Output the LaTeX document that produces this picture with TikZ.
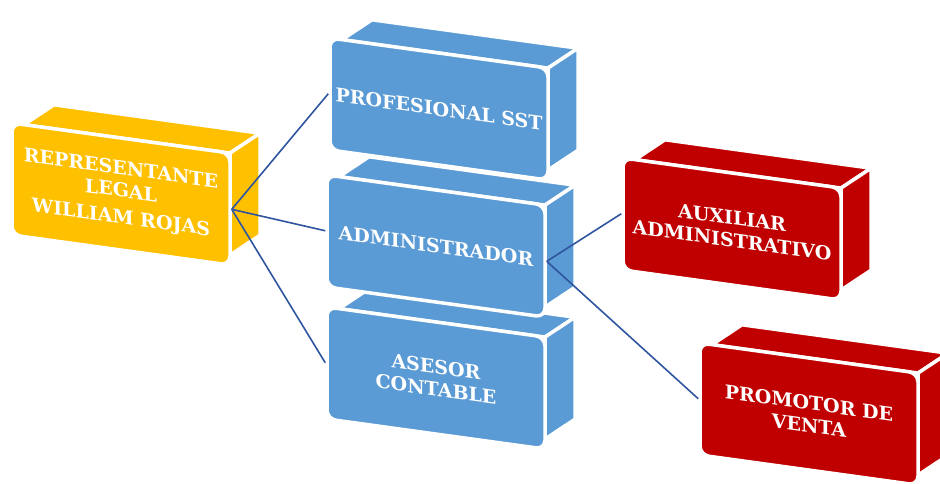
\documentclass[tikz,border=0pt]{standalone}
\usepackage{fontspec}
\setmainfont{DejaVu Serif}
\usetikzlibrary{positioning}

\definecolor{amarillo}{RGB}{255,192,0}
\definecolor{azul}{RGB}{91,155,213}
\definecolor{rojo}{RGB}{192,0,0}
\definecolor{linea}{RGB}{47,85,160}

\tikzset{
  cara/.style={draw=white, line width=3.5pt, line join=round},
  frente/.style={cara, rounded corners=9pt, minimum width=218pt, minimum height=112pt,
    inner sep=0pt, align=center, text=white, transform shape,
    font=\bfseries\fontsize{19}{22.5}\selectfont},
  conector/.style={draw=linea, line width=1.6pt},
}

\begin{document}
\begin{tikzpicture}[x=1pt,y=1pt]
  \useasboundingbox (0,0) rectangle (940,483);
  \clip (0,0) rectangle (940,483);

  % bloques: nombre / origen (esquina inferior izquierda) / relleno / texto
  \foreach \nombre/\px/\py/\relleno/\texto in {
      ase/327/64/azul/{ASESOR\\CONTABLE},
      adm/327/196/azul/{ADMINISTRADOR},
      pro/330/333/azul/{PROFESIONAL SST},
      rep/12/248/amarillo/{REPRESENTANTE\\LEGAL\\[4pt]WILLIAM ROJAS},
      aux/623/213/rojo/{AUXILIAR\\ADMINISTRATIVO},
      prom/700/28/rojo/{PROMOTOR DE\\VENTA}}
  {
    \begin{scope}[shift={(\px,\py)}, yslant=-0.138]
      \fill[cara, fill=\relleno] (12,112) -- (218,112) -- (248,136) -- (42,136) -- cycle;
      \fill[cara, fill=\relleno] (218,10) -- (248,34) -- (248,136) -- (218,112) -- cycle;
      \node[frente, fill=\relleno] (\nombre) at (109,56) {\texto};
    \end{scope}
  }

  \draw[conector] (rep.east) -- (pro.west)
                  (rep.east) -- (adm.west)
                  (rep.east) -- (ase.west)
                  (adm.east) -- (aux.west)
                  (adm.east) -- (prom.west);
\end{tikzpicture}
\end{document}
